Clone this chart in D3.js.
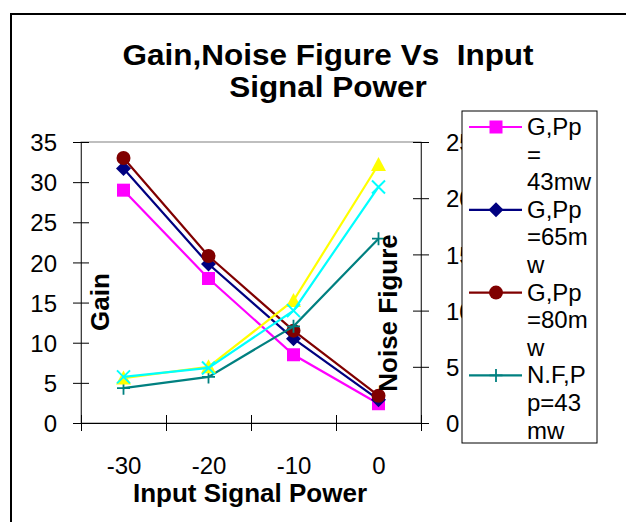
<!DOCTYPE html>
<html>
<head>
<meta charset="utf-8">
<title>Gain, Noise Figure Vs Input Signal Power</title>
<script src="https://d3js.org/d3.v7.min.js"></script>
<style>
  body { margin: 0; background: #fff; }
  text { font-family: "Liberation Sans", Arial, sans-serif; fill: #000; }
</style>
</head>
<body>
<svg width="626" height="522"></svg>
<script>
// data
var inputPower = [-30, -20, -10, 0];
var gainTicks = [0, 5, 10, 15, 20, 25, 30, 35];
var nfTicks = [0, 5, 10, 15, 20, 25];
var seriesNames = ["G,Pp=43mw", "G,Pp=65mw", "G,Pp=80mw", "N.F,Pp=43mw", "N.F,Pp=65mw", "N.F,Pp=80mw"];
var legendLines = [["G,Pp", "=", "43mw"], ["G,Pp", "=65m", "w"], ["G,Pp", "=80m", "w"],
                   ["N.F,P", "p=43", "mw"], ["N.F,P", "p=65", "mw"], ["N.F,P", "p=80", "mw"]];
var gain43 = [29, 18, 8.5, 2.4];
var gain65 = [31.7, 19.8, 10.5, 2.9];
var gain80 = [33, 20.8, 11.5, 3.4];
var nf43 = [3.1, 4.1, 8.6, 16.4];
var nf65 = [4.0, 5.0, 10.9, 23.0];
var nf80 = [4.1, 4.9, 10.0, 21.0];

var svg = d3.select("svg");

// outer chart frame (right/bottom edges fall outside the picture)
svg.append("rect")
    .attr("x", 11).attr("y", 14)
    .attr("width", 700).attr("height", 600)
    .attr("fill", "#fff").attr("stroke", "#000").attr("stroke-width", 2);

var x = d3.scaleLinear().domain([-35, 5]).range([81, 421]);
var yL = d3.scaleLinear().domain([0, 35]).range([423, 142]);
var yR = d3.scaleLinear().domain([0, 25]).range([423, 142]);
var plain = function(d) { return String(d); };   // keep ASCII hyphen

var series = [
  { name: seriesNames[0], values: gain43, y: yL, color: "#ff00ff", marker: "square" },
  { name: seriesNames[1], values: gain65, y: yL, color: "#000080", marker: "diamond" },
  { name: seriesNames[2], values: gain80, y: yL, color: "#800000", marker: "circle" },
  { name: seriesNames[3], values: nf43, y: yR, color: "#008080", marker: "plus" },
  { name: seriesNames[4], values: nf65, y: yR, color: "#ffff00", marker: "triangle" },
  { name: seriesNames[5], values: nf80, y: yR, color: "#00ffff", marker: "cross" }
];

// title
svg.append("text")
    .attr("transform", "translate(328,65) scale(1.05,1)")
    .attr("text-anchor", "middle")
    .attr("font-size", 30).attr("font-weight", "bold")
    .style("white-space", "pre")
    .text("Gain,Noise Figure Vs  Input");
svg.append("text")
    .attr("transform", "translate(328,97) scale(1.05,1)")
    .attr("text-anchor", "middle")
    .attr("font-size", 30).attr("font-weight", "bold")
    .text("Signal Power");

// plot area border
svg.append("rect")
    .attr("x", 81).attr("y", 142)
    .attr("width", 340).attr("height", 281)
    .attr("fill", "none").attr("stroke", "#808080");

// left axis
var gL = svg.append("g").attr("transform", "translate(81,0)")
    .call(d3.axisLeft(yL).tickValues(gainTicks).tickSize(8).tickPadding(16).tickFormat(plain));
gL.selectAll(".tick line").attr("x1", 8);
gL.select(".domain").attr("stroke", "#404040");
gL.selectAll(".tick text").attr("font-size", 24).attr("font-family", null).attr("dy", "0.36em");

// right axis
var gR = svg.append("g").attr("transform", "translate(421,0)")
    .call(d3.axisRight(yR).tickValues(nfTicks).tickSize(8).tickPadding(17).tickFormat(plain));
gR.selectAll(".tick line").attr("x1", -8);
gR.select(".domain").attr("stroke", "#404040");
gR.selectAll(".tick text").attr("font-size", 24).attr("font-family", null).attr("dy", "0.36em");

// bottom axis: ticks between categories, labels on categories
var gB = svg.append("g").attr("transform", "translate(0,423)")
    .call(d3.axisBottom(x).tickValues([-35, -25, -15, -5, 5]).tickSize(8).tickFormat(""));
gB.selectAll(".tick line").attr("y1", -8);
gB.select(".domain").attr("stroke", "#000");
var gB2 = svg.append("g").attr("transform", "translate(0,423)")
    .call(d3.axisBottom(x).tickValues(inputPower).tickSize(0).tickPadding(34).tickFormat(plain));
gB2.select(".domain").remove();
gB2.selectAll(".tick text").attr("font-size", 24).attr("font-family", null);

// lines and markers
function drawMarker(g, type, color, size) {
  var h = size / 2;
  if (type == "square") {
    g.append("rect").attr("x", -h).attr("y", -h).attr("width", size).attr("height", size).attr("fill", color);
  } else if (type == "diamond") {
    g.append("path").attr("d", "M0," + (-h - 1) + "L" + (h + 1) + ",0L0," + (h + 1) + "L" + (-h - 1) + ",0Z").attr("fill", color);
  } else if (type == "circle") {
    g.append("circle").attr("r", h + 0.5).attr("fill", color);
  } else if (type == "triangle") {
    g.append("path").attr("d", "M0," + (-h - 1) + "L" + (h + 1) + "," + (h) + "L" + (-h - 1) + "," + (h) + "Z").attr("fill", color);
  } else if (type == "cross") {
    g.append("path").attr("d", "M" + (-h) + "," + (-h) + "L" + h + "," + h + "M" + h + "," + (-h) + "L" + (-h) + "," + h)
      .attr("stroke", color).attr("stroke-width", 2).attr("fill", "none");
  } else if (type == "plus") {
    g.append("path").attr("d", "M" + (-h) + ",0L" + h + ",0M0," + (-h) + "L0," + h)
      .attr("stroke", color).attr("stroke-width", 1.8).attr("fill", "none");
  }
}

var plot = svg.append("g");
series.forEach(function(s) {
  var line = d3.line()
      .x(function(d, i) { return x(inputPower[i]); })
      .y(function(d) { return s.y(d); });
  plot.append("path")
      .datum(s.values)
      .attr("d", line)
      .attr("fill", "none")
      .attr("stroke", s.color)
      .attr("stroke-width", 2.2);
  s.values.forEach(function(v, i) {
    var m = plot.append("g").attr("transform", "translate(" + x(inputPower[i]) + "," + s.y(v) + ")");
    drawMarker(m, s.marker, s.color, 13);
  });
});

// axis titles
svg.append("text")
    .attr("transform", "translate(109,302) rotate(-90)")
    .attr("text-anchor", "middle")
    .attr("font-size", 26).attr("font-weight", "bold")
    .text("Gain");
svg.append("text")
    .attr("transform", "translate(397,313) rotate(-90)")
    .attr("text-anchor", "middle")
    .attr("font-size", 26).attr("font-weight", "bold")
    .text("Noise Figure");
svg.append("text")
    .attr("x", 250).attr("y", 502)
    .attr("text-anchor", "middle")
    .attr("font-size", 26).attr("font-weight", "bold")
    .text("Input Signal Power");

// legend: the box only has room for the first four entries
var legend = svg.append("g");
legend.append("rect")
    .attr("x", 462).attr("y", 111)
    .attr("width", 135).attr("height", 332)
    .attr("fill", "#fff").attr("stroke", "#000");
var lineH = 27.6;
series.forEach(function(s, k) {
  var base = 135 + k * 3 * lineH;
  if (base + 2 * lineH > 443) return;
  var it = legend.append("g");
  it.append("line")
      .attr("x1", 469).attr("x2", 522)
      .attr("y1", base - 8).attr("y2", base - 8)
      .attr("stroke", s.color).attr("stroke-width", 2.2);
  drawMarker(it.append("g").attr("transform", "translate(496," + (base - 8) + ")"), s.marker, s.color, 13);
  legendLines[k].forEach(function(t, j) {
    it.append("text")
        .attr("x", 527).attr("y", base + j * lineH)
        .attr("font-size", 24)
        .text(t);
  });
});
</script>
</body>
</html>
